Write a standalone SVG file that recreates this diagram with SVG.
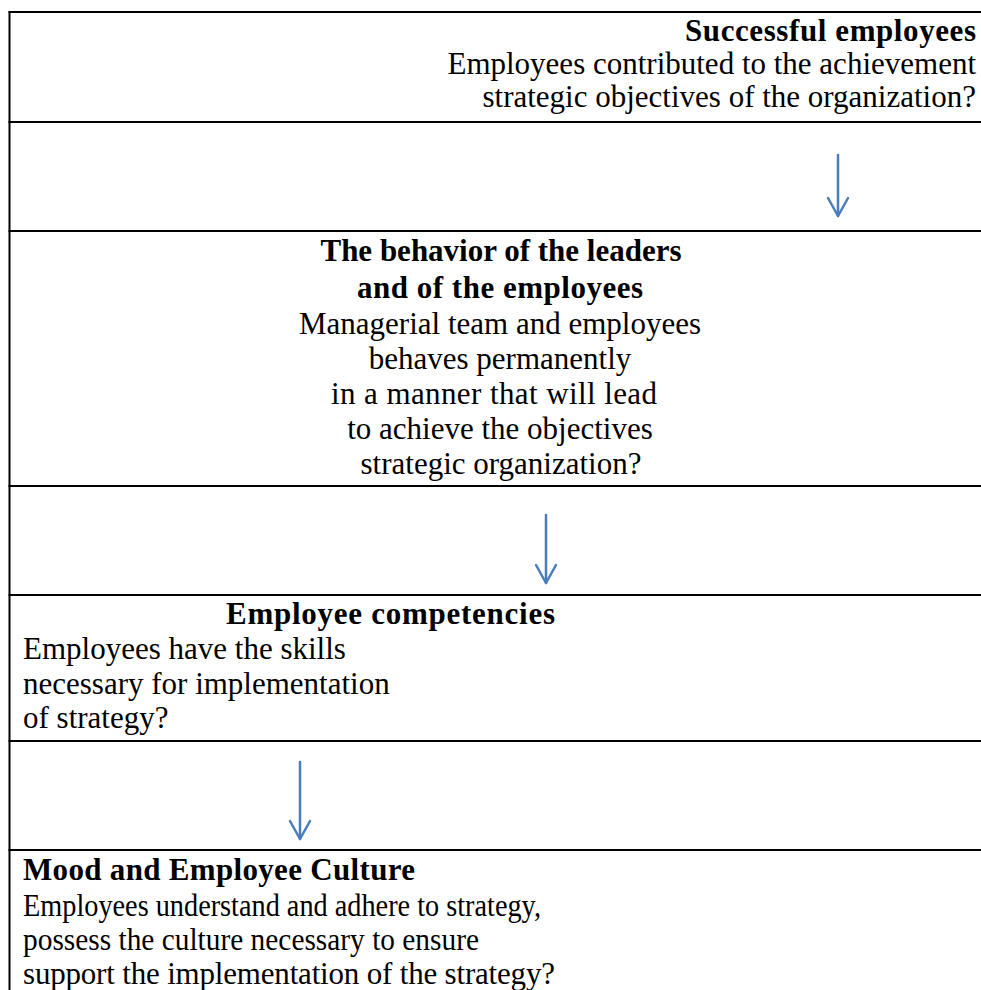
<svg xmlns="http://www.w3.org/2000/svg" width="981" height="990" viewBox="0 0 981 990">
  <style>
    .t { font-family: "Liberation Serif", "Times New Roman", serif; font-size: 31px; fill: #000; }
    .b { font-weight: bold; }
    .end { text-anchor: end; }
    .mid { text-anchor: middle; }
    .rule { stroke: #000; stroke-width: 2; fill: none; }
    .flow { stroke: #4A7EBB; stroke-width: 2.5; fill: none; stroke-linecap: round; }
  </style>
  <defs>
    <marker id="vhead" markerUnits="userSpaceOnUse" markerWidth="24" markerHeight="26" viewBox="-20 -12 24 24" refX="0" refY="0" orient="auto">
      <path d="M-18,-10 L0,0 L-18,10" fill="none" stroke="#4A7EBB" stroke-width="2.5" stroke-linecap="round" stroke-linejoin="round"/>
    </marker>
  </defs>

  <rect width="981" height="990" fill="#fff"/>

  <!-- table rules -->
  <g id="table">
    <line class="rule" x1="9.5" y1="11" x2="9.5" y2="990"/>
    <line class="rule" x1="8.5" y1="12" x2="981" y2="12"/>
    <line class="rule" x1="8.5" y1="122" x2="981" y2="122"/>
    <line class="rule" x1="8.5" y1="231" x2="981" y2="231"/>
    <line class="rule" x1="8.5" y1="486" x2="981" y2="486"/>
    <line class="rule" x1="8.5" y1="595" x2="981" y2="595"/>
    <line class="rule" x1="8.5" y1="741" x2="981" y2="741"/>
    <line class="rule" x1="8.5" y1="850" x2="981" y2="850"/>
  </g>

  <g id="successful-employees">
    <text class="t b end" x="976" y="41" textLength="291" lengthAdjust="spacing">Successful employees</text>
    <text class="t end" x="976" y="74">Employees contributed to the achievement</text>
    <text class="t end" x="976" y="107">strategic objectives of the organization?</text>
  </g>

  <g id="behavior">
    <text class="t b mid" x="501" y="261">The behavior of the leaders</text>
    <text class="t b mid" x="500" y="298" textLength="286" lengthAdjust="spacing">and of the employees</text>
    <text class="t mid" x="500" y="334">Managerial team and employees</text>
    <text class="t mid" x="500" y="369">behaves permanently</text>
    <text class="t mid" x="494" y="404" textLength="326" lengthAdjust="spacing">in a manner that will lead</text>
    <text class="t mid" x="500" y="439">to achieve the objectives</text>
    <text class="t mid" x="501" y="474">strategic organization?</text>
  </g>

  <g id="competencies">
    <text class="t b" x="226" y="624" textLength="329" lengthAdjust="spacing">Employee competencies</text>
    <text class="t" x="23" y="659">Employees have the skills</text>
    <text class="t" x="23" y="694">necessary for implementation</text>
    <text class="t" x="23" y="728">of strategy?</text>
  </g>

  <g id="culture">
    <text class="t b" x="23" y="880" textLength="392" lengthAdjust="spacing">Mood and Employee Culture</text>
    <text class="t" x="23" y="916" textLength="518" lengthAdjust="spacingAndGlyphs">Employees understand and adhere to strategy,</text>
    <text class="t" x="23" y="950" textLength="456" lengthAdjust="spacingAndGlyphs">possess the culture necessary to ensure</text>
    <text class="t" x="23" y="984" textLength="532" lengthAdjust="spacing">support the implementation of the strategy?</text>
  </g>

  <!-- upward-reading flow: each block feeds the one above -->
  <g id="connectors">
    <line class="flow" x1="838" y1="155" x2="838" y2="216" marker-end="url(#vhead)"/>
    <line class="flow" x1="546" y1="515" x2="546" y2="583" marker-end="url(#vhead)"/>
    <line class="flow" x1="300" y1="762" x2="300" y2="839" marker-end="url(#vhead)"/>
  </g>
</svg>
